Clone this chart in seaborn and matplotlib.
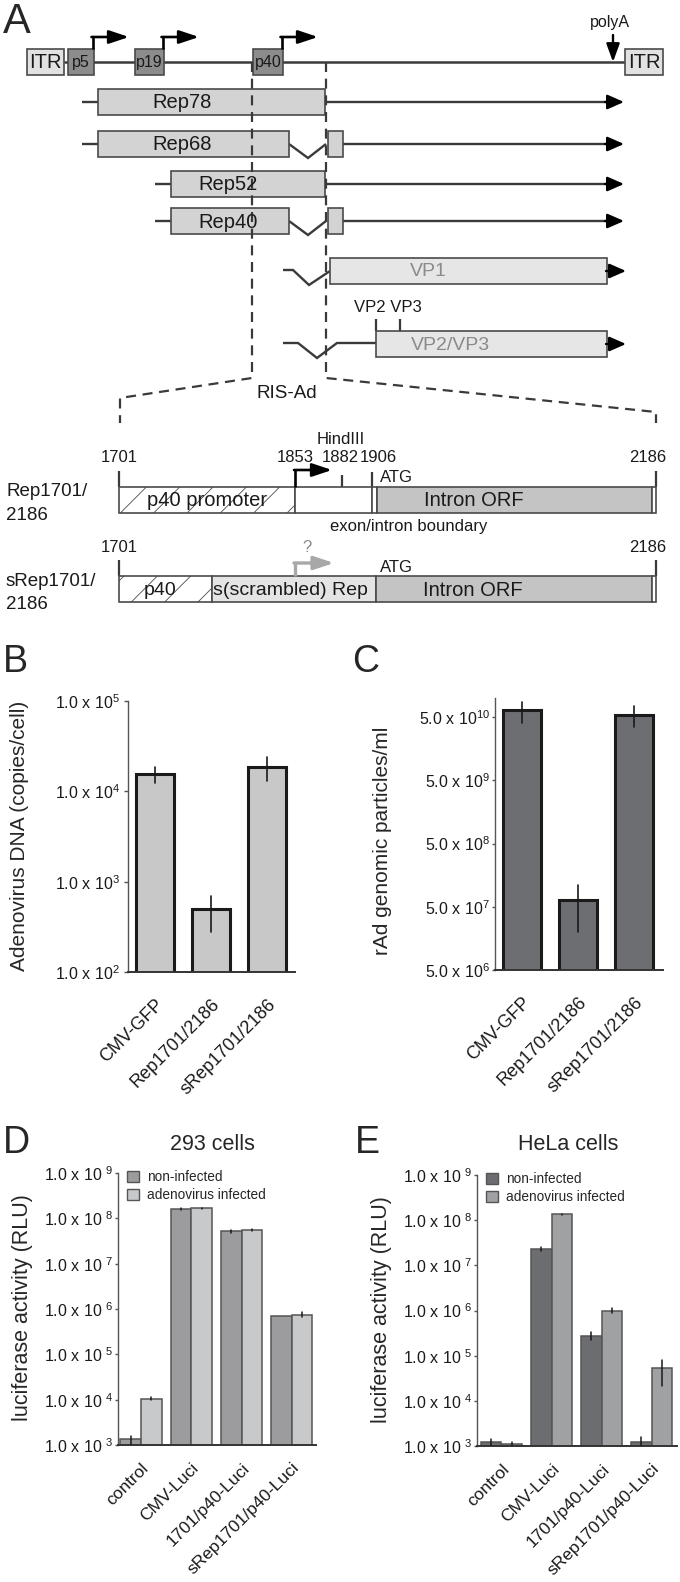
import matplotlib
matplotlib.use("Agg")
import matplotlib.pyplot as plt
from matplotlib.patches import Rectangle, Patch
from matplotlib.ticker import NullLocator
import pandas as pd
import seaborn as sns

# ---------------- data ----------------
b_constructs = ["CMV-GFP", "Rep1701/2186", "sRep1701/2186"]
b_dna = [1.55e4, 5.0e2, 1.85e4]
b_dna_lo = [1.24e4, 2.75e2, 1.3e4]
b_dna_hi = [1.85e4, 7.0e2, 2.4e4]

c_particles = [6.4e10, 6.4e7, 5.4e10]
c_particles_lo = [4.0e10, 2.0e7, 3.5e10]
c_particles_hi = [8.7e10, 1.1e8, 7.4e10]

luci_constructs = ["control", "CMV-Luci", "1701/p40-Luci", "sRep1701/p40-Luci"]
conditions = ["non-infected", "adenovirus infected"]

d_non = [1.35e3, 1.6e8, 5.2e7, 7.0e5]
d_non_lo = [1.0e3, 1.55e8, 4.8e7, 6.9e5]
d_non_hi = [1.58e3, 1.65e8, 5.6e7, 7.1e5]
d_inf = [1.05e4, 1.65e8, 5.6e7, 7.3e5]
d_inf_lo = [0.97e4, 1.6e8, 5.3e7, 6.6e5]
d_inf_hi = [1.13e4, 1.7e8, 5.9e7, 8.6e5]

e_non = [1.2e3, 2.35e7, 2.7e5, 1.2e3]
e_non_lo = [1.0e3, 2.1e7, 2.25e5, 1.0e3]
e_non_hi = [1.45e3, 2.6e7, 3.3e5, 1.6e3]
e_inf = [1.1e3, 1.35e8, 1.0e6, 5.2e4]
e_inf_lo = [1.0e3, 1.3e8, 0.9e6, 2.1e4]
e_inf_hi = [1.25e3, 1.4e8, 1.12e6, 8.1e4]

b_ticks = [1e2, 1e3, 1e4, 1e5]
c_ticks = [5e6, 5e7, 5e8, 5e9, 5e10]
luci_ticks = [1e3, 1e4, 1e5, 1e6, 1e7, 1e8, 1e9]

# ---------------- style ----------------
sns.set_theme(style="white")
plt.rcParams["font.family"] = ["Liberation Sans", "DejaVu Sans"]
plt.rcParams["mathtext.fontset"] = "custom"
plt.rcParams["mathtext.rm"] = "Liberation Sans"
plt.rcParams["hatch.linewidth"] = 0.6
plt.rcParams["hatch.color"] = "#444444"

W, H = 680, 1582
fig = plt.figure(figsize=(W / 100, H / 100), dpi=100)


def px_axes(l, t, r, b):
    return fig.add_axes([l / W, 1 - b / H, (r - l) / W, (b - t) / H])


def ftext(x, y, s, **kw):
    fig.text(x / W, 1 - y / H, s, **kw)


# ================= panel A : schematic =================
axA = px_axes(0, 0, 680, 620)
axA.set_xlim(0, 680)
axA.set_ylim(620, 0)
axA.axis("off")

LINE = "#3a3a3a"
EDGE = "#4a4a4a"


def rect(x0, x1, y0, y1, fc, ec=EDGE, lw=1.2, hatch=None, z=3):
    axA.add_patch(Rectangle((x0, y0), x1 - x0, y1 - y0, facecolor=fc,
                            edgecolor=ec, lw=lw, hatch=hatch, zorder=z))


def seg(xs, ys, color=LINE, lw=1.7, z=2, **kw):
    axA.plot(xs, ys, color=color, lw=lw, zorder=z, solid_capstyle="butt",
             solid_joinstyle="miter", **kw)


def arrow(x0, y0, x1, y1, color="black", lw=1.7, hl=0.5, hw=0.22, z=4):
    axA.annotate("", xy=(x1, y1), xytext=(x0, y0), zorder=z,
                 arrowprops=dict(arrowstyle=f"-|>,head_length={hl},head_width={hw}",
                                 color=color, lw=lw, shrinkA=0, shrinkB=0,
                                 mutation_scale=20))


def label(x, y, s, size=11.5, color="#1a1a1a", ha="center", **kw):
    kw.setdefault("zorder", 7)
    axA.text(x, y, s, fontsize=size, color=color, ha=ha, va="center", **kw)


ftext(3, 22, "A", fontsize=30, va="center", ha="left")

# genome line with ITRs and promoters
seg([64, 625], [62, 62], lw=1.8)
for x0, x1 in [(27, 64), (625, 663)]:
    rect(x0, x1, 49, 75, "#e2e2e2")
    label((x0 + x1) / 2, 63, "ITR", size=14.5)
promoters = ["p5", "p19", "p40"]
promoter_span = [(68, 94), (135, 164), (253, 283)]
for name, (x0, x1) in zip(promoters, promoter_span):
    rect(x0, x1, 49, 75, "#8c8c8c")
    label((x0 + x1) / 2, 63, name, size=11.5)
    seg([x1 - 1.5, x1 - 1.5], [49, 37], color="black", lw=1.9, z=4)
    arrow(x1 - 2.5, 37, x1 + 35, 37, lw=1.9, hl=0.6, hw=0.2)
label(610, 22, "polyA", size=11.5)
arrow(613, 35, 613, 62, lw=1.7, hl=0.55, hw=0.2)

# Rep transcripts
rep_names = ["Rep78", "Rep68", "Rep52", "Rep40"]
rep_start = [98, 98, 171, 171]
rep_spliced = [False, True, False, True]
rep_y = [102, 144, 184, 221]
rep_text_x = [182, 182, 228, 228]
for name, x0, spl, y, tx in zip(rep_names, rep_start, rep_spliced, rep_y, rep_text_x):
    seg([x0 - 16, x0], [y, y])
    if spl:
        rect(x0, 289, y - 13, y + 13, "#d3d3d3")
        seg([289, 308, 326], [y, y + 14, y])
        rect(328, 343, y - 13, y + 13, "#d3d3d3")
        seg([343, 612], [y, y])
    else:
        rect(x0, 325, y - 13, y + 13, "#d3d3d3")
        seg([325, 612], [y, y])
    arrow(605, y, 624, y, lw=1.7, hl=0.5, hw=0.22)
    label(tx, y + 1, name, size=14.5)

# VP transcripts
seg([283, 293, 309, 330], [270, 270, 285, 271])
rect(330, 607, 258, 284, "#e6e6e6", z=3)
arrow(606, 271, 626, 271, lw=1.7, hl=0.5, hw=0.22)
label(428, 272, "VP1", size=14, color="#8a8a8a")

seg([283, 298, 317, 337, 376], [343, 343, 358, 343, 343])
rect(376, 607, 331, 357, "#e6e6e6", z=3)
arrow(606, 344, 626, 344, lw=1.7, hl=0.5, hw=0.22)
label(450, 345, "VP2/VP3", size=14, color="#8a8a8a")
seg([376, 376], [319, 331], color=LINE, lw=1.6)
seg([400, 400], [319, 331], color=LINE, lw=1.6)
label(388, 307, "VP2 VP3", size=12)

# dashed zoom lines
dash = dict(linestyle=(0, (4.5, 3)), color="#3a3a3a", lw=1.6, z=4)
seg([252, 252, 120, 120], [62, 378, 398, 423], **dash)
seg([326, 326, 656, 656], [62, 378, 412, 423], **dash)
label(287, 394, "RIS-Ad", size=13.5)

# Rep1701/2186 construct
label(6, 492, "Rep1701/", size=13.5, ha="left")
label(6, 516, "2186", size=13.5, ha="left")
for x, s in [(119, "1701"), (295, "1853"), (340, "1882"), (378, "1906"), (648, "2186")]:
    label(x, 458, s, size=12)
label(341, 440, "HindIII", size=12)
seg([119, 119], [471, 487], color=LINE, lw=1.6)
seg([656, 656], [471, 487], color=LINE, lw=1.6)
seg([342, 342], [475, 487], color=LINE, lw=1.6)
seg([372, 372], [472, 487], color=LINE, lw=1.6)
rect(119, 295, 487, 513, "white", hatch="/")
rect(295, 372, 487, 513, "white")
rect(372, 377, 487, 513, "white")
rect(377, 652, 487, 513, "#c4c4c4")
rect(652, 656, 487, 513, "white")
seg([295, 295], [487, 470], color="black", lw=1.9, z=4)
arrow(294, 470, 332, 470, lw=1.9, hl=0.6, hw=0.2)
label(207, 501, "p40 promoter", size=14.5)
label(474, 501, "Intron ORF", size=14.5)
label(380, 478, "ATG", size=12, ha="left")
label(409, 526, "exon/intron boundary", size=12)

# sRep1701/2186 construct
label(6, 581, "sRep1701/", size=13.5, ha="left")
label(6, 604, "2186", size=13.5, ha="left")
label(119, 548, "1701", size=12)
label(648, 548, "2186", size=12)
label(307, 548, "?", size=12, color="#8a8a8a")
seg([119, 119], [560, 576], color=LINE, lw=1.6)
seg([656, 656], [560, 576], color=LINE, lw=1.6)
rect(119, 212, 576, 602, "white", hatch="/")
rect(212, 376, 576, 602, "#e4e4e4")
rect(376, 652, 576, 602, "#c4c4c4")
rect(652, 656, 576, 602, "white")
seg([295, 295], [576, 563], color="#a8a8a8", lw=2.4, z=4)
arrow(294, 563, 334, 563, color="#a8a8a8", lw=2.4, hl=0.6, hw=0.2)
label(160, 590, "p40", size=14)
label(290, 590, "s(scrambled) Rep", size=14)
label(473, 590, "Intron ORF", size=14.5)
label(380, 567, "ATG", size=12, ha="left")


# ================= panels B / C =================
def single_bars(ax, values, lo, hi, color, xlim, ylim, ticks, ticklabels, tickpad, ticklen):
    df = pd.DataFrame({"construct": b_constructs, "value": values})
    sns.barplot(data=df, x="construct", y="value", color=color, saturation=1,
                errorbar=None, width=0.69, edgecolor="#1a1a1a", linewidth=2.2, ax=ax)
    ax.set_yscale("log")
    for bar, l, h in zip(ax.patches, lo, hi):
        xc = bar.get_x() + bar.get_width() / 2
        ax.plot([xc, xc], [l, h], color="#1a1a1a", lw=1.2, zorder=5)
    ax.set_xlim(*xlim)
    ax.set_ylim(*ylim)
    ax.set_yticks(ticks, labels=ticklabels)
    ax.yaxis.set_minor_locator(NullLocator())
    ax.set_xticks(range(len(b_constructs)), labels=b_constructs, rotation=45,
                  ha="right", rotation_mode="anchor")
    ax.tick_params(axis="x", length=0, pad=17, labelsize=13, colors="#1a1a1a")
    ax.tick_params(axis="y", left=True, length=ticklen, width=1, pad=tickpad,
                   labelsize=11.5, colors="#555555", labelcolor="#1a1a1a")
    ax.set_xlabel("")
    ax.set_ylabel("")
    sns.despine(ax=ax)
    ax.spines["left"].set_color("#555555")
    ax.spines["left"].set_linewidth(1.0)
    ax.spines["bottom"].set_color("#333333")
    ax.spines["bottom"].set_linewidth(1.4)


axB = px_axes(128, 701, 295, 972)
single_bars(axB, b_dna, b_dna_lo, b_dna_hi, "#c8c8c8", (-0.482, 2.5), (1e2, 1e5),
            b_ticks, [r"1.0 x 10$^{%d}$" % p for p in [2, 3, 4, 5]], 3, 3)
ftext(3, 662, "B", fontsize=27, va="center", ha="left")
ftext(20, 836, "Adenovirus DNA (copies/cell)", fontsize=15, rotation=90,
      va="center", ha="center")

axC = px_axes(495, 698, 663, 970)
single_bars(axC, c_particles, c_particles_lo, c_particles_hi, "#6d6e71", (-0.482, 2.52),
            (5e6, 1e11), c_ticks, [r"5.0 x 10$^{%d}$" % p for p in [6, 7, 8, 9, 10]], 1.5, 2)
ftext(352, 662, "C", fontsize=27, va="center", ha="left")
ftext(382, 841, "rAd genomic particles/ml", fontsize=15, rotation=90,
      va="center", ha="center")


# ================= panels D / E =================
def grouped_bars(ax, non, non_lo, non_hi, inf, inf_lo, inf_hi, colors, xlim):
    df = pd.DataFrame({
        "construct": luci_constructs * 2,
        "condition": [conditions[0]] * 4 + [conditions[1]] * 4,
        "value": non + inf,
    })
    sns.barplot(data=df, x="construct", y="value", hue="condition", hue_order=conditions,
                palette=colors, saturation=1, errorbar=None, width=0.82,
                edgecolor="#555555", linewidth=1.1, legend=False, ax=ax)
    ax.set_yscale("log")
    for cont, lo, hi in zip(ax.containers, [non_lo, inf_lo], [non_hi, inf_hi]):
        for bar, l, h in zip(cont, lo, hi):
            xc = bar.get_x() + bar.get_width() / 2
            ax.plot([xc, xc], [l, h], color="#1a1a1a", lw=1.1, zorder=5)
    ax.set_xlim(*xlim)
    ax.set_ylim(1e3, 1e9)
    ax.set_yticks(luci_ticks, labels=[r"1.0 x 10 $^{%d}$" % p for p in range(3, 10)])
    ax.yaxis.set_minor_locator(NullLocator())
    ax.set_xticks(range(4), labels=luci_constructs, rotation=45, ha="right",
                  rotation_mode="anchor")
    ax.tick_params(axis="x", length=0, pad=11, labelsize=12.5, colors="#1a1a1a")
    ax.tick_params(axis="y", left=True, length=2, width=1, pad=1.5, labelsize=11.5,
                   colors="#555555", labelcolor="#1a1a1a")
    ax.set_xlabel("")
    ax.set_ylabel("")
    sns.despine(ax=ax)
    ax.spines["left"].set_color("#555555")
    ax.spines["left"].set_linewidth(1.0)
    ax.spines["bottom"].set_color("#333333")
    ax.spines["bottom"].set_linewidth(1.4)
    handles = [Patch(facecolor=c, edgecolor="#555555", lw=1) for c in colors]
    ax.legend(handles, conditions, loc="upper left", bbox_to_anchor=(0.045, 1.01),
              frameon=False, fontsize=9.8, handlelength=0.9, handleheight=0.9,
              handletextpad=0.6, labelspacing=0.3, borderpad=0, borderaxespad=0)


axD = px_axes(118, 1173, 316, 1445)
grouped_bars(axD, d_non, d_non_lo, d_non_hi, d_inf, d_inf_lo, d_inf_hi,
             ["#9c9c9e", "#c8c9cb"], (-0.457, 3.48))
ftext(3, 1143, "D", fontsize=27, va="center", ha="left")
ftext(212, 1145, "293 cells", fontsize=15.5, va="center", ha="center")
ftext(23, 1308, "luciferase activity (RLU)", fontsize=15.5, rotation=90,
      va="center", ha="center")

axE = px_axes(477, 1175, 677, 1446)
grouped_bars(axE, e_non, e_non_lo, e_non_hi, e_inf, e_inf_lo, e_inf_hi,
             ["#6c6d70", "#a0a1a3"], (-0.49, 3.51))
ftext(355, 1143, "E", fontsize=27, va="center", ha="left")
ftext(568, 1145, "HeLa cells", fontsize=15.5, va="center", ha="center")
ftext(382, 1310, "luciferase activity (RLU)", fontsize=15.5, rotation=90,
      va="center", ha="center")

fig.savefig("out.png", dpi=100)
